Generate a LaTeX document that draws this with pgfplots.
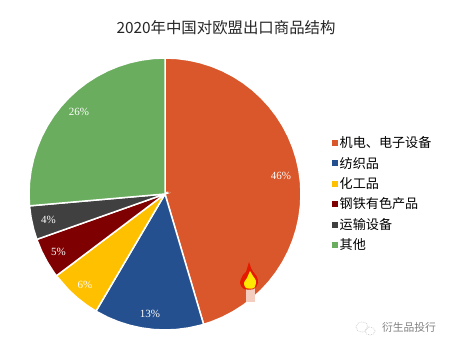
\documentclass[border=0pt]{standalone}
\usepackage{pgfplots}
\usepackage{fontspec}
\pgfplotsset{compat=1.18}
\setmainfont{Noto Sans CJK SC}[Scale=1]
\newfontfamily\latinf{Liberation Serif}
\definecolor{cA}{HTML}{D9572A}
\definecolor{cB}{HTML}{25508F}
\definecolor{cC}{HTML}{FFC000}
\definecolor{cD}{HTML}{7F0000}
\definecolor{cE}{HTML}{404040}
\definecolor{cF}{HTML}{6AAD5E}
\pgfplotsset{wedge/.style={draw=white,line width=1.5pt,data cs=polar}}
\begin{document}
\begin{tikzpicture}
\begin{axis}[
  scale only axis, width=466pt, height=352pt,
  xmin=-165, xmax=301, ymin=-158, ymax=194,
  hide axis, clip=false,
  legend style={at={(axis cs:166.5,59.5)},anchor=north west,draw=none,fill=none,
    font=\fontsize{13.1}{14}\selectfont,row sep=3.9pt,inner sep=0pt,
    /tikz/every even column/.style={column sep=0pt}},
  legend cell align=left,
  area legend,
  legend image code/.code={\fill[#1,draw=none] (0pt,-3pt) rectangle (6pt,3pt);},
]
\addplot[wedge,fill=cA] coordinates {(0,0)(90,136)(85,136)(80,136)(75,136)(70,136)(65,136)(60,136)(55,136)(50,136)(45,136)(40,136)(35,136)(30,136)(25,136)(20,136)(15,136)(10,136)(5,136)(0,136)(-5,136)(-10,136)(-15,136)(-20,136)(-25,136)(-30,136)(-35,136)(-40,136)(-45,136)(-50,136)(-55,136)(-60,136)(-65,136)(-70,136)(-73.5,136)} -- cycle;
\addplot[wedge,fill=cB] coordinates {(0,0)(-73.5,136)(-75,136)(-80,136)(-85,136)(-90,136)(-95,136)(-100,136)(-105,136)(-110,136)(-115,136)(-120.5,136)} -- cycle;
\addplot[wedge,fill=cC] coordinates {(0,0)(-120.5,136)(-125,136)(-130,136)(-135,136)(-143,136)} -- cycle;
\addplot[wedge,fill=cD] coordinates {(0,0)(-143,136)(-145,136)(-150,136)(-155,136)(-160.5,136)} -- cycle;
\addplot[wedge,fill=cE] coordinates {(0,0)(-160.5,136)(-165,136)(-170,136)(-175,136)} -- cycle;
\addplot[wedge,fill=cF] coordinates {(0,0)(-175,136)(-180,136)(-185,136)(-190,136)(-195,136)(-200,136)(-205,136)(-210,136)(-215,136)(-220,136)(-225,136)(-230,136)(-235,136)(-240,136)(-245,136)(-250,136)(-255,136)(-260,136)(-265,136)(-270,136)} -- cycle;
\legend{机电、电子设备,纺织品,化工品,钢铁有色产品,运输设备,其他}
% small flame picture on the large slice
\addplot[forget plot,draw=none,fill=white!70!cA] coordinates {(81,-94)(90,-94)(90,-108)(81,-108)} -- cycle;
\addplot[forget plot,draw=none,fill={rgb:red,9;green,1;blue,0},smooth] coordinates {(84,-68)(87,-76)(92,-83)(93,-89)(89,-95)(79,-95)(75,-89)(78,-81)(81,-78)} -- cycle;
\addplot[forget plot,draw=none,fill=yellow!90!orange,smooth] coordinates {(85,-77)(88,-82)(91,-87)(89,-94)(81,-94)(79,-89)(82,-84)} -- cycle;
% page extent
\path (axis cs:-165,-158) rectangle (axis cs:301,194);
% texts
\node[font=\fontsize{15.4}{18}\selectfont,black!85] at (axis cs:61,166) {2020年中国对欧盟出口商品结构};
\node[font=\latinf\fontsize{11}{12}\selectfont,text=white] at (axis cs:116,18) {46\%};
\node[font=\latinf\fontsize{11}{12}\selectfont,text=white] at (axis cs:-15,-120) {13\%};
\node[font=\latinf\fontsize{11}{12}\selectfont,text=white] at (axis cs:-80,-90.5) {6\%};
\node[font=\latinf\fontsize{11}{12}\selectfont,text=white] at (axis cs:-106.5,-57.5) {5\%};
\node[font=\latinf\fontsize{11}{12}\selectfont,text=white] at (axis cs:-116.5,-25.5) {4\%};
\node[font=\latinf\fontsize{11}{12}\selectfont,text=white] at (axis cs:-86,82) {26\%};
% watermark
\draw[gray!40,densely dotted,line width=0.7pt] (axis cs:197,-133) ellipse [x radius=6,y radius=5];
\draw[gray!40,densely dotted,line width=0.7pt] (axis cs:205,-137) ellipse [x radius=5,y radius=4];
\node[font=\fontsize{10.8}{12}\selectfont,text=black!50] at (axis cs:244,-133) {衍生品投行};
\end{axis}
\end{tikzpicture}
\end{document}
